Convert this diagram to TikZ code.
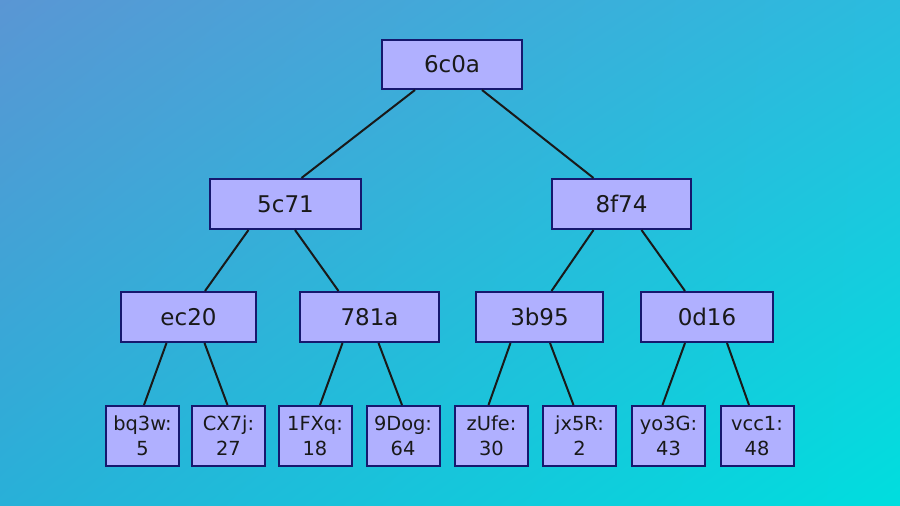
\documentclass[tikz,border=0pt]{standalone}
\usepackage{fontspec}
\setmainfont{DejaVu Sans}
\usepackage{tikz}
\usetikzlibrary{positioning,backgrounds,shadings}
\definecolor{boxfill}{RGB}{176,176,255}
\definecolor{boxline}{RGB}{22,24,110}
\definecolor{bgA}{RGB}{90,150,212}
\definecolor{bgB}{RGB}{42,188,222}
\definecolor{bgC}{RGB}{40,176,216}
\definecolor{bgD}{RGB}{0,222,222}
\newcommand{\leafkv}[2]{#1:\\#2}

\begin{document}
\begin{tikzpicture}[x=0.5pt, y=-0.5pt,
      every node/.style={font=\fontsize{11.5pt}{14pt}\selectfont, text=black!90},
      box/.style={draw=boxline, line width=1pt, fill=boxfill, inner sep=0pt, minimum height=25pt},
      leaf/.style={box, align=center, minimum width=36.5pt, minimum height=30pt,
        font=\fontsize{9.7pt}{12.5pt}\selectfont},
      link/.style={line width=1pt, draw=black!90}]
    \useasboundingbox (0,0) rectangle (900,506);
    \shade[upper left=bgA, upper right=bgB, lower left=bgC, lower right=bgD] (0,0) rectangle (900,506);
    % hash levels
    \node[box, minimum width=70pt, minimum height=24.5pt] (h6c0a) at (452,64.5) {6c0a};
    \node[box, minimum width=75.5pt] (h5c71) at (285.5,204) {5c71};
    \node[box, minimum width=69.5pt] (h8f74) at (621.5,204) {8f74};
    \node[box, minimum width=67.5pt] (hec20) at (188.5,317) {ec20};
    \node[box, minimum width=69.5pt] (h781a) at (369.5,317) {781a};
    \node[box, minimum width=63.5pt] (h3b95) at (539.5,317) {3b95};
    \node[box, minimum width=66pt] (h0d16) at (707,317) {0d16};
    % leaves
    \node[leaf] (lbq3w) at (142.5,436) {\leafkv{bq3w}{5}};
    \node[leaf] (lCX7j) at (228.5,436) {\leafkv{CX7j}{27}};
    \node[leaf] (l1FXq) at (315,436) {\leafkv{1FXq}{18}};
    \node[leaf] (l9Dog) at (403,436) {\leafkv{9Dog}{64}};
    \node[leaf] (lzUfe) at (491.5,436) {\leafkv{zUfe}{30}};
    \node[leaf] (ljx5R) at (579.5,436) {\leafkv{jx5R}{2}};
    \node[leaf] (lyo3G) at (668.5,436) {\leafkv{yo3G}{43}};
    \node[leaf] (lvcc1) at (757,436) {\leafkv{vcc1}{48}};
    % edges
    \draw[link] ([xshift=-18.5pt]h6c0a.south) -- ([xshift=8pt]h5c71.north);
    \draw[link] ([xshift=15pt]h6c0a.south) -- ([xshift=-14pt]h8f74.north);
    \draw[link] ([xshift=-18.5pt]h5c71.south) -- ([xshift=8.25pt]hec20.north);
    \draw[link] ([xshift=4.75pt]h5c71.south) -- ([xshift=-15.5pt]h781a.north);
    \draw[link] ([xshift=-14pt]h8f74.south) -- ([xshift=6pt]h3b95.north);
    \draw[link] ([xshift=10pt]h8f74.south) -- ([xshift=-11pt]h0d16.north);
    \draw[link] ([xshift=-11pt]hec20.south) -- ([xshift=0.75pt]lbq3w.north);
    \draw[link] ([xshift=8pt]hec20.south) -- ([xshift=-0.5pt]lCX7j.north);
    \draw[link] ([xshift=-13.5pt]h781a.south) -- ([xshift=2.5pt]l1FXq.north);
    \draw[link] ([xshift=4.5pt]h781a.south) -- ([xshift=-0.5pt]l9Dog.north);
    \draw[link] ([xshift=-14.5pt]h3b95.south) -- ([xshift=-1.5pt]lzUfe.north);
    \draw[link] ([xshift=5.25pt]h3b95.south) -- ([xshift=-3pt]ljx5R.north);
    \draw[link] ([xshift=-11pt]h0d16.south) -- ([xshift=-3pt]lyo3G.north);
    \draw[link] ([xshift=10pt]h0d16.south) -- ([xshift=-4pt]lvcc1.north);
  \end{tikzpicture}
\end{document}
